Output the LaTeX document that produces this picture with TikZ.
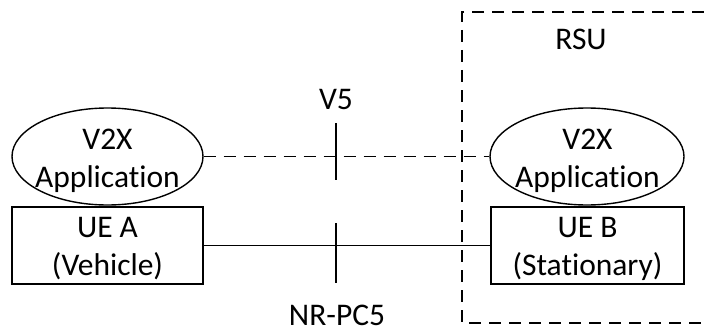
\documentclass[tikz,border=0pt]{standalone}
\usepackage{fontspec}
\setmainfont[Ligatures=NoCommon]{Carlito}
\usetikzlibrary{shapes.geometric}
\begin{document}
\begin{tikzpicture}[x=1pt,y=-1pt,
  every node/.style={font=\fontsize{31.5}{38}\selectfont},
  app/.style={draw,line width=1.4pt,ellipse,inner sep=0pt},
  uebox/.style={draw,line width=1.4pt,rectangle,inner sep=0pt},
  txt/.style={inner sep=0pt,anchor=base},
  dline/.style={line width=1.4pt,dash pattern=on 12pt off 8pt},
  sline/.style={line width=1.4pt}]
\useasboundingbox (0,0) rectangle (704,329);
% RSU dashed frame
\coordinate (r1) at (704,12);
\coordinate (r2) at (462,12);
\coordinate (r3) at (462,323);
\coordinate (r4) at (704,323);
\draw[dline] (r1) -- (r2) -- (r3) -- (r4);
\node[txt] (rsu) at (581,50) {RSU};
% left side
\node[app,minimum width=191pt,minimum height=97pt] (ellA) at (107.5,156.5) {};
\node[txt] (ellA1) at (107.5,149) {V2X};
\node[txt] (ellA2) at (107.5,187) {Application};
\node[uebox,minimum width=191pt,minimum height=77pt] (boxA) at (107.5,245.5) {};
\node[txt] (boxA1) at (107.5,237) {UE A};
\node[txt] (boxA2) at (107.5,275) {(Vehicle)};
% right side
\node[app,minimum width=194pt,minimum height=97pt] (ellB) at (587,156.5) {};
\node[txt] (ellB1) at (587.5,149) {V2X};
\node[txt] (ellB2) at (587.5,187) {Application};
\node[uebox,minimum width=193pt,minimum height=77pt] (boxB) at (587.5,245.5) {};
\node[txt] (boxB1) at (587.5,237) {UE B};
\node[txt] (boxB2) at (587.5,275) {(Stationary)};
% connectors
\draw[dline] (ellA.east) -- (ellB.west);
\draw[sline] (boxA.east) -- (boxB.west);
% ticks
\coordinate (t1) at (336,123);
\coordinate (t2) at (336,180);
\coordinate (t3) at (336,223);
\coordinate (t4) at (336,283);
\draw[sline] (t1) -- (t2);
\draw[sline] (t3) -- (t4);
\node[txt] (v5) at (336,110) {V5};
\node[txt] (pc5) at (337,325.5) {NR-PC5};
\end{tikzpicture}
\end{document}
